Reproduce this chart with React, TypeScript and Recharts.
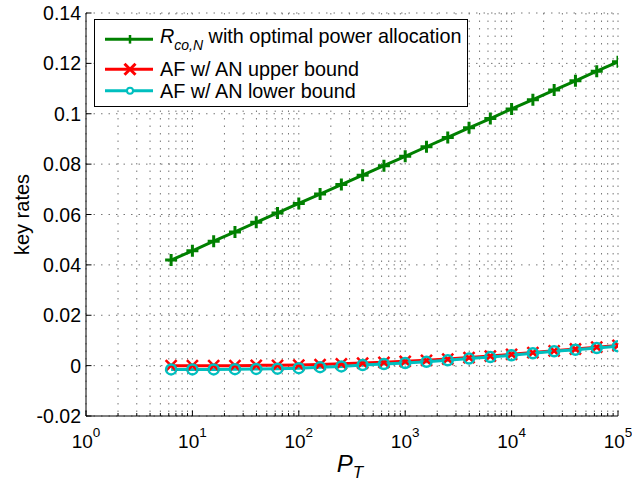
import React from "react";
import {
  LineChart,
  Line,
  XAxis,
  YAxis,
  CartesianGrid,
  Legend,
} from "recharts";

// P_T sample points (log spaced, 10^0.8 ... 10^5)
const ptValues = [
  6.31, 10, 15.85, 25.12, 39.81, 63.1, 100, 158.5, 251.2, 398.1, 631, 1000,
  1585, 2512, 3981, 6310, 10000, 15850, 25120, 39810, 63100, 100000,
];

// R_co,N with optimal power allocation
const rcoN = [
  0.0419, 0.0456, 0.0494, 0.0531, 0.0569, 0.0606, 0.0644, 0.0681, 0.0719,
  0.0756, 0.0794, 0.0831, 0.0869, 0.0906, 0.0944, 0.0981, 0.1019, 0.1056,
  0.1094, 0.1131, 0.1169, 0.1206,
];

// AF w/ AN upper bound
const afUpper = [
  0.0, 0.0, 0.0, 0.0, 0.0001, 0.0001, 0.0002, 0.0004, 0.0007, 0.001, 0.0013,
  0.0017, 0.0021, 0.0026, 0.0032, 0.0038, 0.0045, 0.0052, 0.0059, 0.0066,
  0.0073, 0.008,
];

// AF w/ AN lower bound
const afLower = [
  -0.0015, -0.0015, -0.0015, -0.0014, -0.0013, -0.0012, -0.001, -0.0006,
  -0.0003, 0.0002, 0.0006, 0.001, 0.0015, 0.0021, 0.0028, 0.0034, 0.0041,
  0.0049, 0.0057, 0.0063, 0.007, 0.0077,
];

const decades = [1, 10, 100, 1000, 10000, 100000];
const minorSteps = [2, 3, 4, 5, 6, 7, 8, 9];
const yTicks = [-0.02, 0, 0.02, 0.04, 0.06, 0.08, 0.1, 0.12, 0.14];

const GREEN = "#008000";
const RED = "#ff0000";
const CYAN = "#00bfbf";
const FONT = "'Liberation Sans', Arial, Helvetica, sans-serif";

const xTicks = decades.flatMap((d, i) =>
  i < decades.length - 1 ? [d, ...minorSteps.map((m) => d * m)] : [d]
);

const data = ptValues.map((pt, i) => ({
  pt,
  rco: rcoN[i],
  upper: afUpper[i],
  lower: afLower[i],
}));

const isDecade = (v: number) => Math.abs(Math.log10(v) - Math.round(Math.log10(v))) < 1e-9;

const BottomTick = (props: any) => {
  const { x, y, payload } = props;
  const major = isDecade(payload.value);
  return (
    <g>
      <line x1={x} y1={y} x2={x} y2={y - (major ? 5.5 : 3)} stroke="#000" strokeWidth={1} />
      {major && (
        <text x={x} y={y + 31.5} textAnchor="middle" fontFamily={FONT} fontSize={19} fill="#000">
          10
          <tspan fontSize={13.5} dy={-11}>
            {Math.round(Math.log10(payload.value))}
          </tspan>
        </text>
      )}
    </g>
  );
};

const TopTick = (props: any) => {
  const { x, y, payload } = props;
  const major = isDecade(payload.value);
  return <line x1={x} y1={y} x2={x} y2={y + (major ? 5.5 : 3)} stroke="#000" strokeWidth={1} />;
};

const LeftTick = (props: any) => {
  const { x, y, payload } = props;
  return (
    <g>
      <line x1={x} y1={y} x2={x + 5.5} y2={y} stroke="#000" strokeWidth={1} />
      <text x={x - 5} y={y} dy="0.36em" textAnchor="end" fontFamily={FONT} fontSize={19.5} fill="#000">
        {String(payload.value)}
      </text>
    </g>
  );
};

const RightTick = (props: any) => {
  const { x, y } = props;
  return <line x1={x} y1={y} x2={x - 5.5} y2={y} stroke="#000" strokeWidth={1} />;
};

const plusMarker = (cx: number, cy: number, s: number) =>
  `M${cx - s},${cy}H${cx + s}M${cx},${cy - s}V${cy + s}`;
const crossMarker = (cx: number, cy: number, s: number) =>
  `M${cx - s},${cy - s}L${cx + s},${cy + s}M${cx - s},${cy + s}L${cx + s},${cy - s}`;

const PlusDot = (props: any) => (
  <path key={`plus-${props.index}`} d={plusMarker(props.cx, props.cy, 6)} stroke={GREEN} strokeWidth={3} fill="none" />
);
const CrossDot = (props: any) => (
  <path key={`cross-${props.index}`} d={crossMarker(props.cx, props.cy, 5.5)} stroke={RED} strokeWidth={2.5} fill="none" />
);
const CircleDot = (props: any) => (
  <circle key={`circ-${props.index}`} cx={props.cx} cy={props.cy} r={5} stroke={CYAN} strokeWidth={2.5} fill="none" />
);

const renderLegend = () => (
  <svg width={376} height={90} style={{ display: "block" }}>
    <rect x={0.5} y={0.5} width={373} height={87} fill="#fff" stroke="#000" strokeWidth={1} />
    {/* row 1 */}
    <line x1={11} y1={20.3} x2={59} y2={20.3} stroke={GREEN} strokeWidth={3} />
    <path d={`M36,16V24.6`} stroke={GREEN} strokeWidth={2.5} />
    <text x={66} y={23.5} fontFamily={FONT} fontSize={19.8} fill="#000">
      <tspan fontStyle="italic">R</tspan>
      <tspan fontStyle="italic" fontSize={14} dy={7.5}>co,N</tspan>
      <tspan dy={-7.5}> with optimal power allocation</tspan>
    </text>
    {/* row 2 */}
    <line x1={11} y1={50.3} x2={59} y2={50.3} stroke={RED} strokeWidth={3} />
    <path d={crossMarker(36, 50.3, 5.5)} stroke={RED} strokeWidth={3} fill="none" />
    <text x={66} y={57} fontFamily={FONT} fontSize={19.8} fill="#000">
      AF w/ AN upper bound
    </text>
    {/* row 3 */}
    <line x1={11} y1={71.7} x2={59} y2={71.7} stroke={CYAN} strokeWidth={3} />
    <circle cx={36} cy={71.7} r={3} stroke={CYAN} strokeWidth={2} fill="#fff" />
    <text x={66} y={79} fontFamily={FONT} fontSize={19.8} fill="#000">
      AF w/ AN lower bound
    </text>
  </svg>
);

export default function App() {
  return (
    <div style={{ position: "absolute", left: 0, top: 0, background: "#fff" }}>
      <LineChart
        width={632}
        height={483}
        data={data}
        margin={{ top: 13, right: 14, bottom: 0, left: 0 }}
      >
        <CartesianGrid stroke="#777" strokeDasharray="1.5 6" strokeWidth={1} />
        <XAxis
          dataKey="pt"
          type="number"
          scale="log"
          domain={[1, 100000]}
          ticks={xTicks}
          interval={0}
          allowDataOverflow
          height={67}
          tickSize={0}
          tickMargin={0}
          tickLine={false}
          axisLine={{ stroke: "#000" }}
          tick={(p: any) => <BottomTick {...p} />}
          label={{
            content: (p: any) => {
              const vb = p.viewBox;
              return (
                <text x={vb.x + vb.width / 2 - 2} y={vb.y + 56} textAnchor="middle" fontFamily={FONT} fontSize={24} fill="#000">
                  <tspan fontStyle="italic">P</tspan>
                  <tspan fontStyle="italic" fontSize={17} dy={6}>T</tspan>
                </text>
              );
            },
          }}
        />
        <XAxis
          xAxisId="top"
          orientation="top"
          dataKey="pt"
          type="number"
          scale="log"
          domain={[1, 100000]}
          ticks={xTicks}
          interval={0}
          allowDataOverflow
          height={0}
          tickSize={0}
          tickMargin={0}
          tickLine={false}
          axisLine={{ stroke: "#000" }}
          tick={(p: any) => <TopTick {...p} />}
        />
        <YAxis
          type="number"
          domain={[-0.02, 0.14]}
          ticks={yTicks}
          interval={0}
          width={86}
          tickSize={0}
          tickMargin={0}
          tickLine={false}
          axisLine={{ stroke: "#000" }}
          tick={(p: any) => <LeftTick {...p} />}
          label={{
            content: (p: any) => {
              const vb = p.viewBox;
              const cy = vb.y + vb.height / 2;
              return (
                <text x={29} y={cy} transform={`rotate(-90, 29, ${cy})`} textAnchor="middle" fontFamily={FONT} fontSize={20} fill="#000">
                  key rates
                </text>
              );
            },
          }}
        />
        <YAxis
          yAxisId="right"
          orientation="right"
          type="number"
          domain={[-0.02, 0.14]}
          ticks={yTicks}
          interval={0}
          width={0}
          tickSize={0}
          tickMargin={0}
          tickLine={false}
          axisLine={{ stroke: "#000" }}
          tick={(p: any) => <RightTick {...p} />}
        />
        <Legend
          layout="vertical"
          align="center"
          verticalAlign="middle"
          wrapperStyle={{ left: 94, top: 19, width: 376, height: 90 }}
          content={renderLegend}
        />
        <Line
          dataKey="rco"
          stroke={GREEN}
          strokeWidth={3}
          dot={(p: any) => <PlusDot {...p} />}
          activeDot={false}
          isAnimationActive={false}
        />
        <Line
          dataKey="upper"
          stroke={RED}
          strokeWidth={3}
          dot={(p: any) => <CrossDot {...p} />}
          activeDot={false}
          isAnimationActive={false}
        />
        <Line
          dataKey="lower"
          stroke={CYAN}
          strokeWidth={3}
          dot={(p: any) => <CircleDot {...p} />}
          activeDot={false}
          isAnimationActive={false}
        />
      </LineChart>
    </div>
  );
}
